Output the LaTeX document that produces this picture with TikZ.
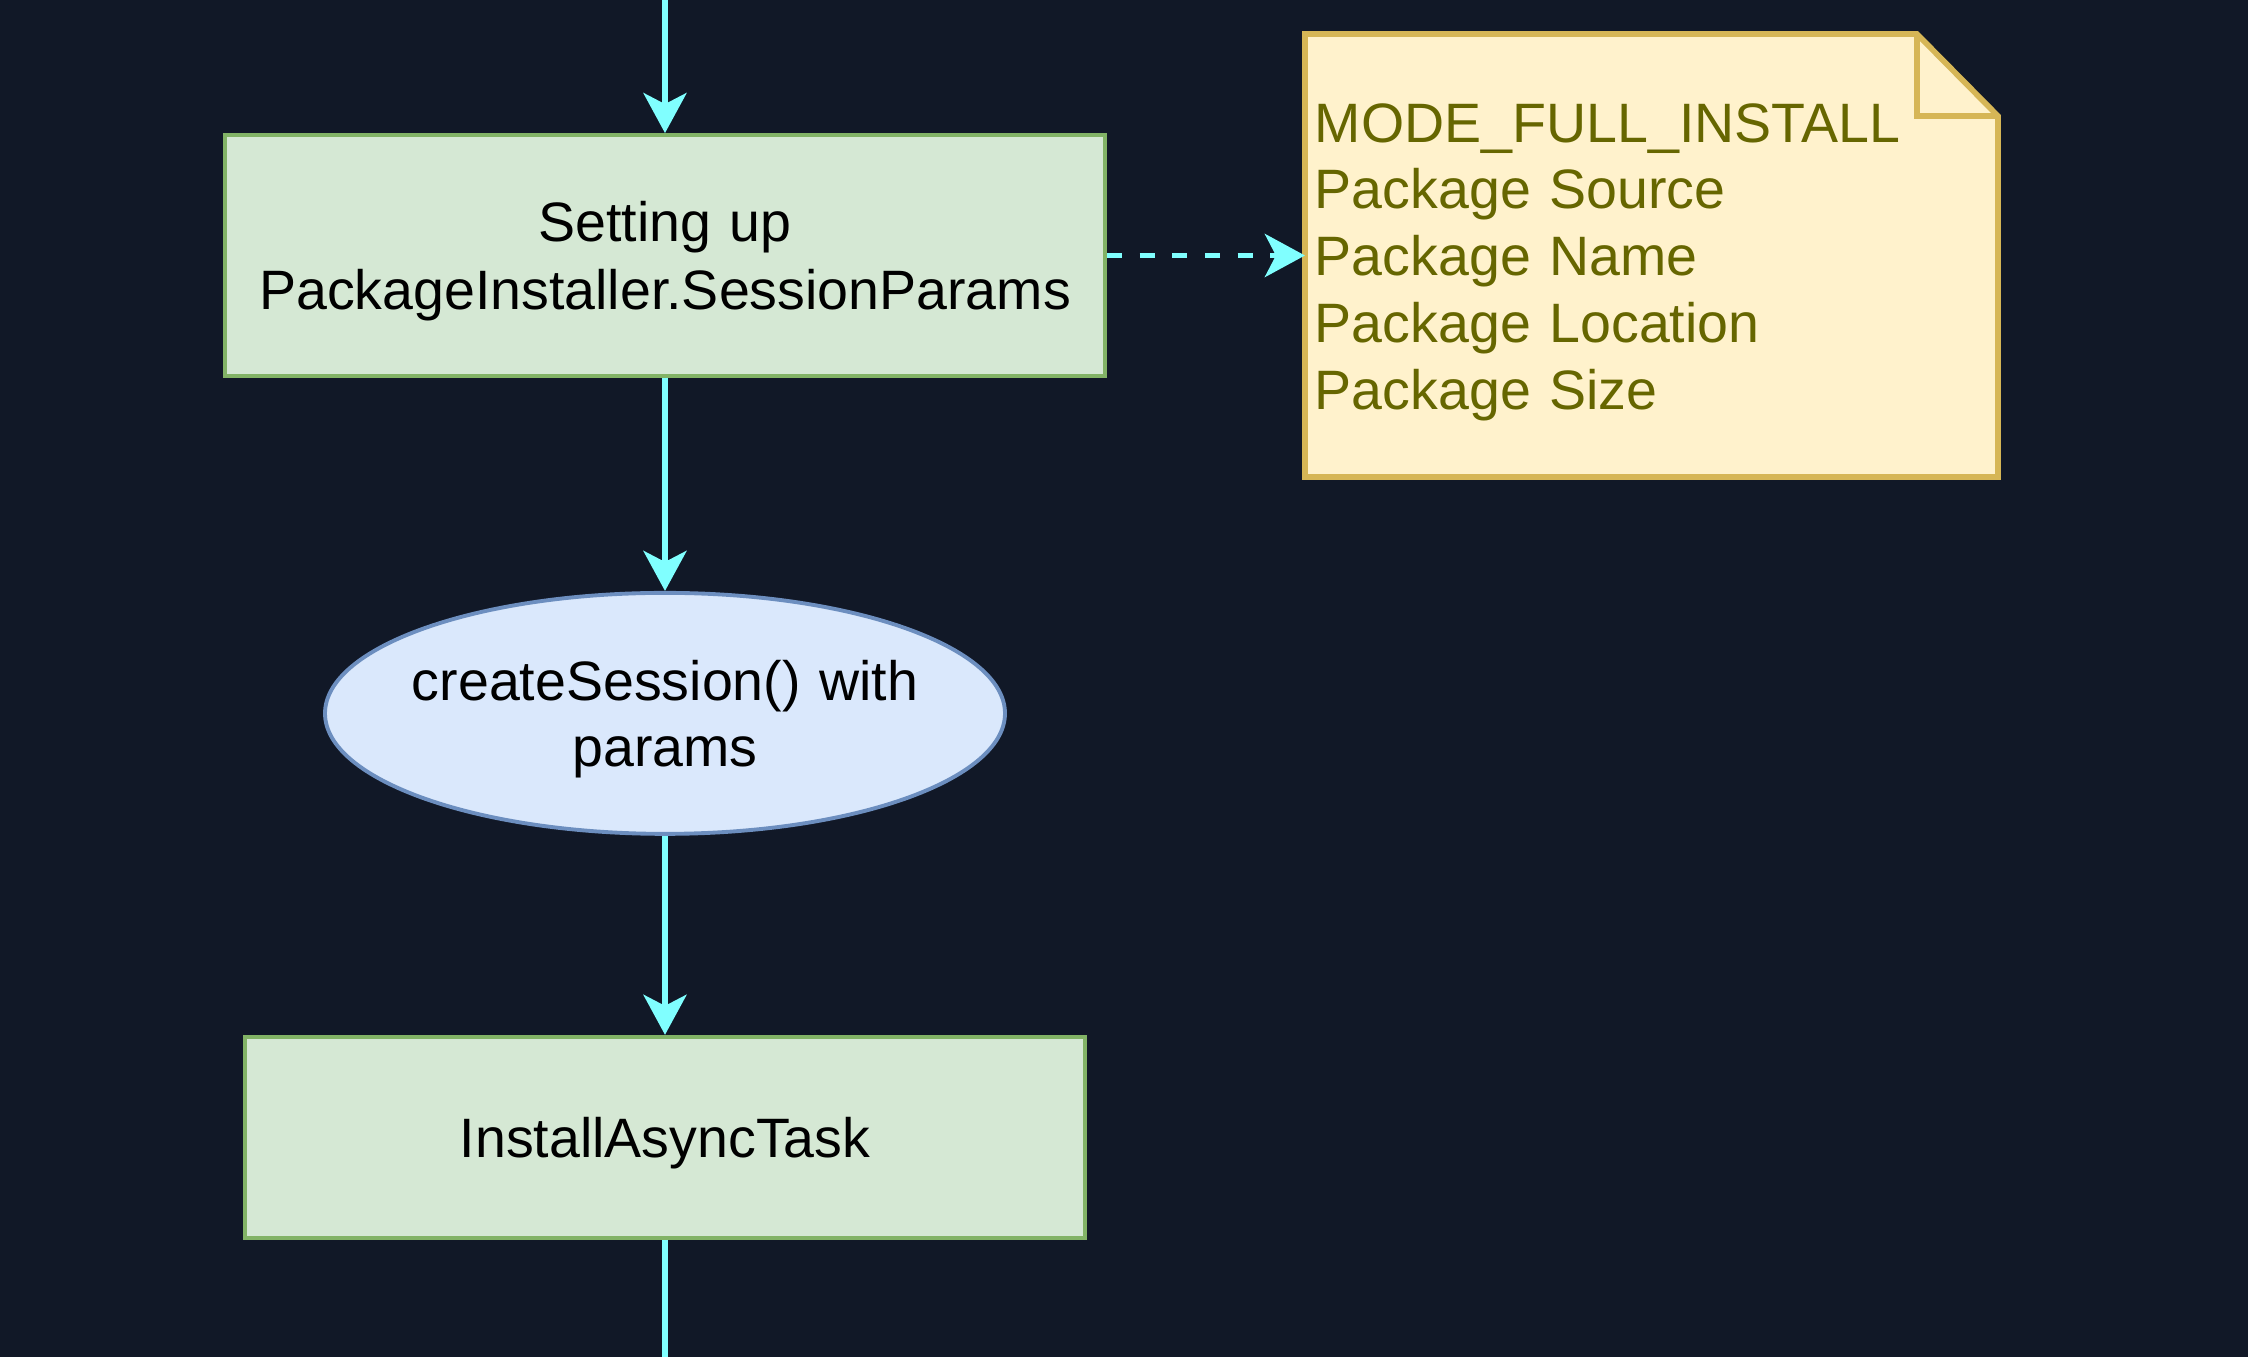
\documentclass[tikz,border=0pt]{standalone}
\usepackage{fontspec}
\setmainfont{Liberation Sans}
\usepackage{tikz}
\usepackage{xcolor}
\usetikzlibrary{arrows.meta,positioning,shapes.geometric,calc,backgrounds}
\definecolor{Night}{HTML}{111827}
\definecolor{Cyan}{HTML}{80FFFF}
\definecolor{SoftGreen}{HTML}{D5E8D4}
\definecolor{Green}{HTML}{82B366}
\definecolor{SoftBlue}{HTML}{DAE8FC}
\definecolor{Blue}{HTML}{6C8EBF}
\definecolor{SoftYellow}{HTML}{FFF2CC}
\definecolor{Gold}{HTML}{D6B656}
\definecolor{Olive}{HTML}{666600}

\begin{document}
\begin{tikzpicture}[
  lowtext/.style={execute at begin node={\rule{0pt}{14.7pt}}},
  stepbox/.style={lowtext,draw=Green,fill=SoftGreen,line width=1.1pt,inner xsep=0.1cm,minimum height=2.41cm,align=center,font=\fontsize{15.8pt}{19.4pt}\selectfont},
  callbox/.style={lowtext,ellipse,draw=Blue,fill=SoftBlue,line width=1.1pt,text width=5.2cm,inner xsep=-0.3cm,minimum width=6.8cm,minimum height=2.41cm,align=center,font=\fontsize{15.8pt}{19pt}\selectfont},
  notebox/.style={lowtext,text width=6.73cm,inner sep=0.1cm,outer sep=0pt,minimum height=4.43cm,align=left,text=Olive,font=\fontsize{15.8pt}{19pt}\selectfont},
  noteshape/.style={draw=Gold,fill=SoftYellow,line width=1.6pt,line join=miter},
  arrow/.style={-{Stealth[length=4mm,width=4.3mm,inset=1.1mm]},line width=1.7pt,draw=Cyan},
  dasharrow/.style={arrow,dash pattern=on 4.3pt off 5pt}
]
\begin{scope}[on background layer]
\fill[Night] (0,0) rectangle (22.48,-13.57);
\end{scope}
\useasboundingbox (0,0) rectangle (22.48,-13.57);

\coordinate (entry) at (6.65,0);
\coordinate (exit) at (6.65,-13.57);
\node[stepbox,text width=8.6cm] (setup) at (6.65,-2.555) {Setting up\\PackageInstaller.SessionParams};
\node[callbox,below=2.13cm of setup] (session) {createSession() with\\params};
\node[stepbox,text width=8.2cm,minimum height=2.01cm,below=1.99cm of session] (task) {InstallAsyncTask};
\node[notebox,right=1.98cm of setup] (note) {MODE\_FULL\_INSTALL\\Package Source\\Package Name\\Package Location\\Package Size};

% folded note outline
\begin{scope}[on background layer]
\draw[noteshape] (note.north west) -- ($(note.north east)+(-0.81,0)$) -- ($(note.north east)+(0,-0.82)$) -- (note.south east) -- (note.south west) -- cycle;
\draw[noteshape,fill=none] ($(note.north east)+(-0.81,0)$) -- ($(note.north east)+(-0.81,-0.82)$) -- ($(note.north east)+(0,-0.82)$);
\end{scope}

\draw[arrow] (entry) -- (setup);
\draw[arrow] (setup) -- (session);
\draw[arrow] (session) -- (task);
\draw[line width=1.7pt,draw=Cyan] (task) -- (exit);
\draw[dasharrow] (setup.east) -- (setup.east -| note.west);
\end{tikzpicture}
\end{document}
